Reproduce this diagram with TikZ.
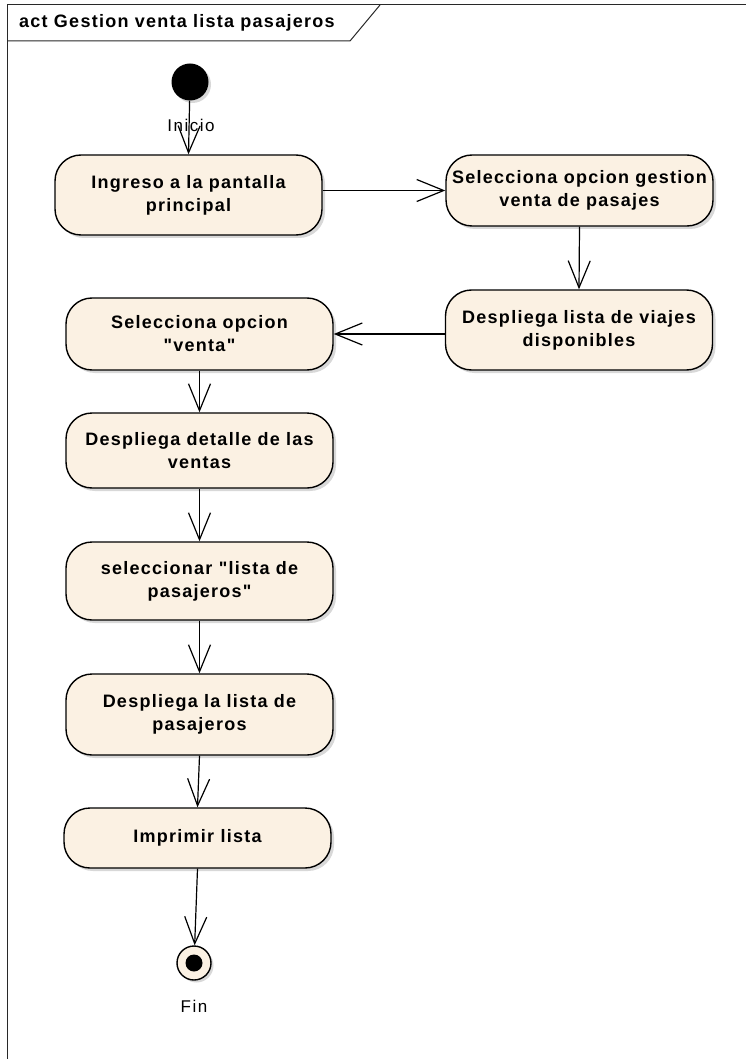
\documentclass[tikz,border=0pt]{standalone}
\usepackage{fontspec}
\setmainfont{Liberation Sans}
\newfontfamily\arialbsp[LetterSpace=7]{Liberation Sans}
\newfontfamily\arialrsp[LetterSpace=9]{Liberation Sans}
\usetikzlibrary{arrows.meta,shadows}
\definecolor{actfill}{RGB}{251,241,227}
\definecolor{framecol}{RGB}{40,40,40}
\tikzset{
  actbox/.style={draw=black, line width=1.4pt, fill=actfill, rounded corners=26pt,
    minimum width=267pt, align=center, inner sep=0pt,
    font=\arialbsp\bfseries\fontsize{18}{23}\selectfont,
    drop shadow={shadow xshift=3pt, shadow yshift=-3pt, fill=black!30}},
  flow/.style={line width=1.2pt, -{Straight Barb[length=27pt,width=22pt,line width=1.2pt]}},
  framestyle/.style={draw=framecol, line width=1pt},
  lbl/.style={font=\arialrsp\fontsize{17}{20}\selectfont, inner sep=0pt}
}
\begin{document}
\begin{tikzpicture}[x=1pt,y=-1pt]
\useasboundingbox (0,0) rectangle (746,1059);
% frame
\draw[framestyle] (746,5) -- (7,5) -- (7,1059);
\draw[framestyle] (7,41) -- (350,41) -- (380,5);
\node[anchor=west, inner sep=0pt, font=\arialbsp\bfseries\fontsize{18}{22}\selectfont] (title) at (19,23) {act Gestion venta lista pasajeros};
% start
\node[circle, fill=black, minimum size=37pt, inner sep=0pt,
  drop shadow={shadow xshift=2.5pt, shadow yshift=-2.5pt, fill=black!30}] (start) at (190,82) {};
\node[lbl] (inicio) at (191,125) {Inicio};
% actions
\node[actbox, minimum height=80pt] (b1) at (188.5,195) {Ingreso a la pantalla\\principal};
\node[actbox, minimum height=71pt] (b2) at (579.5,190.5) {Selecciona opcion gestion\\venta de pasajes};
\node[actbox, minimum height=80pt] (b3) at (579,330) {Despliega lista de viajes\\disponibles};
\node[actbox, minimum height=72pt] (b4) at (199.5,334) {Selecciona opcion\\"venta"};
\node[actbox, minimum height=75pt] (b5) at (199.5,450.5) {Despliega detalle de las\\ventas};
\node[actbox, minimum height=78pt] (b6) at (199.5,581) {seleccionar "lista de\\pasajeros"};
\node[actbox, minimum height=81pt] (b7) at (199.5,714.5) {Despliega la lista de\\pasajeros};
\node[actbox, minimum height=60pt] (b8) at (197.5,838) {Imprimir lista};
% end
\node[circle, draw=black, line width=1.4pt, fill=actfill, minimum size=34pt, inner sep=0pt,
  drop shadow={shadow xshift=2.5pt, shadow yshift=-2.5pt, fill=black!30}] (fin) at (194,963) {};
\node[circle, fill=black, minimum size=17pt, inner sep=0pt] (findot) at (fin) {};
\node[lbl] (finlbl) at (194,1006) {Fin};
% flows
\draw[flow] (start) -- (b1.north);
\draw[flow] (b1.east |- b2.west) -- (b2.west);
\draw[flow] (b2.south) -- (b3.north);
\draw[flow] (b3.west |- b4.east) -- (b4.east);
\draw[flow] (b4.south) -- (b5.north);
\draw[flow] (b5.south) -- (b6.north);
\draw[flow] (b6.south) -- (b7.north);
\draw[flow] (b7.south) -- (b8.north);
\draw[flow] (b8.south) -- (fin);
\end{tikzpicture}
\end{document}
